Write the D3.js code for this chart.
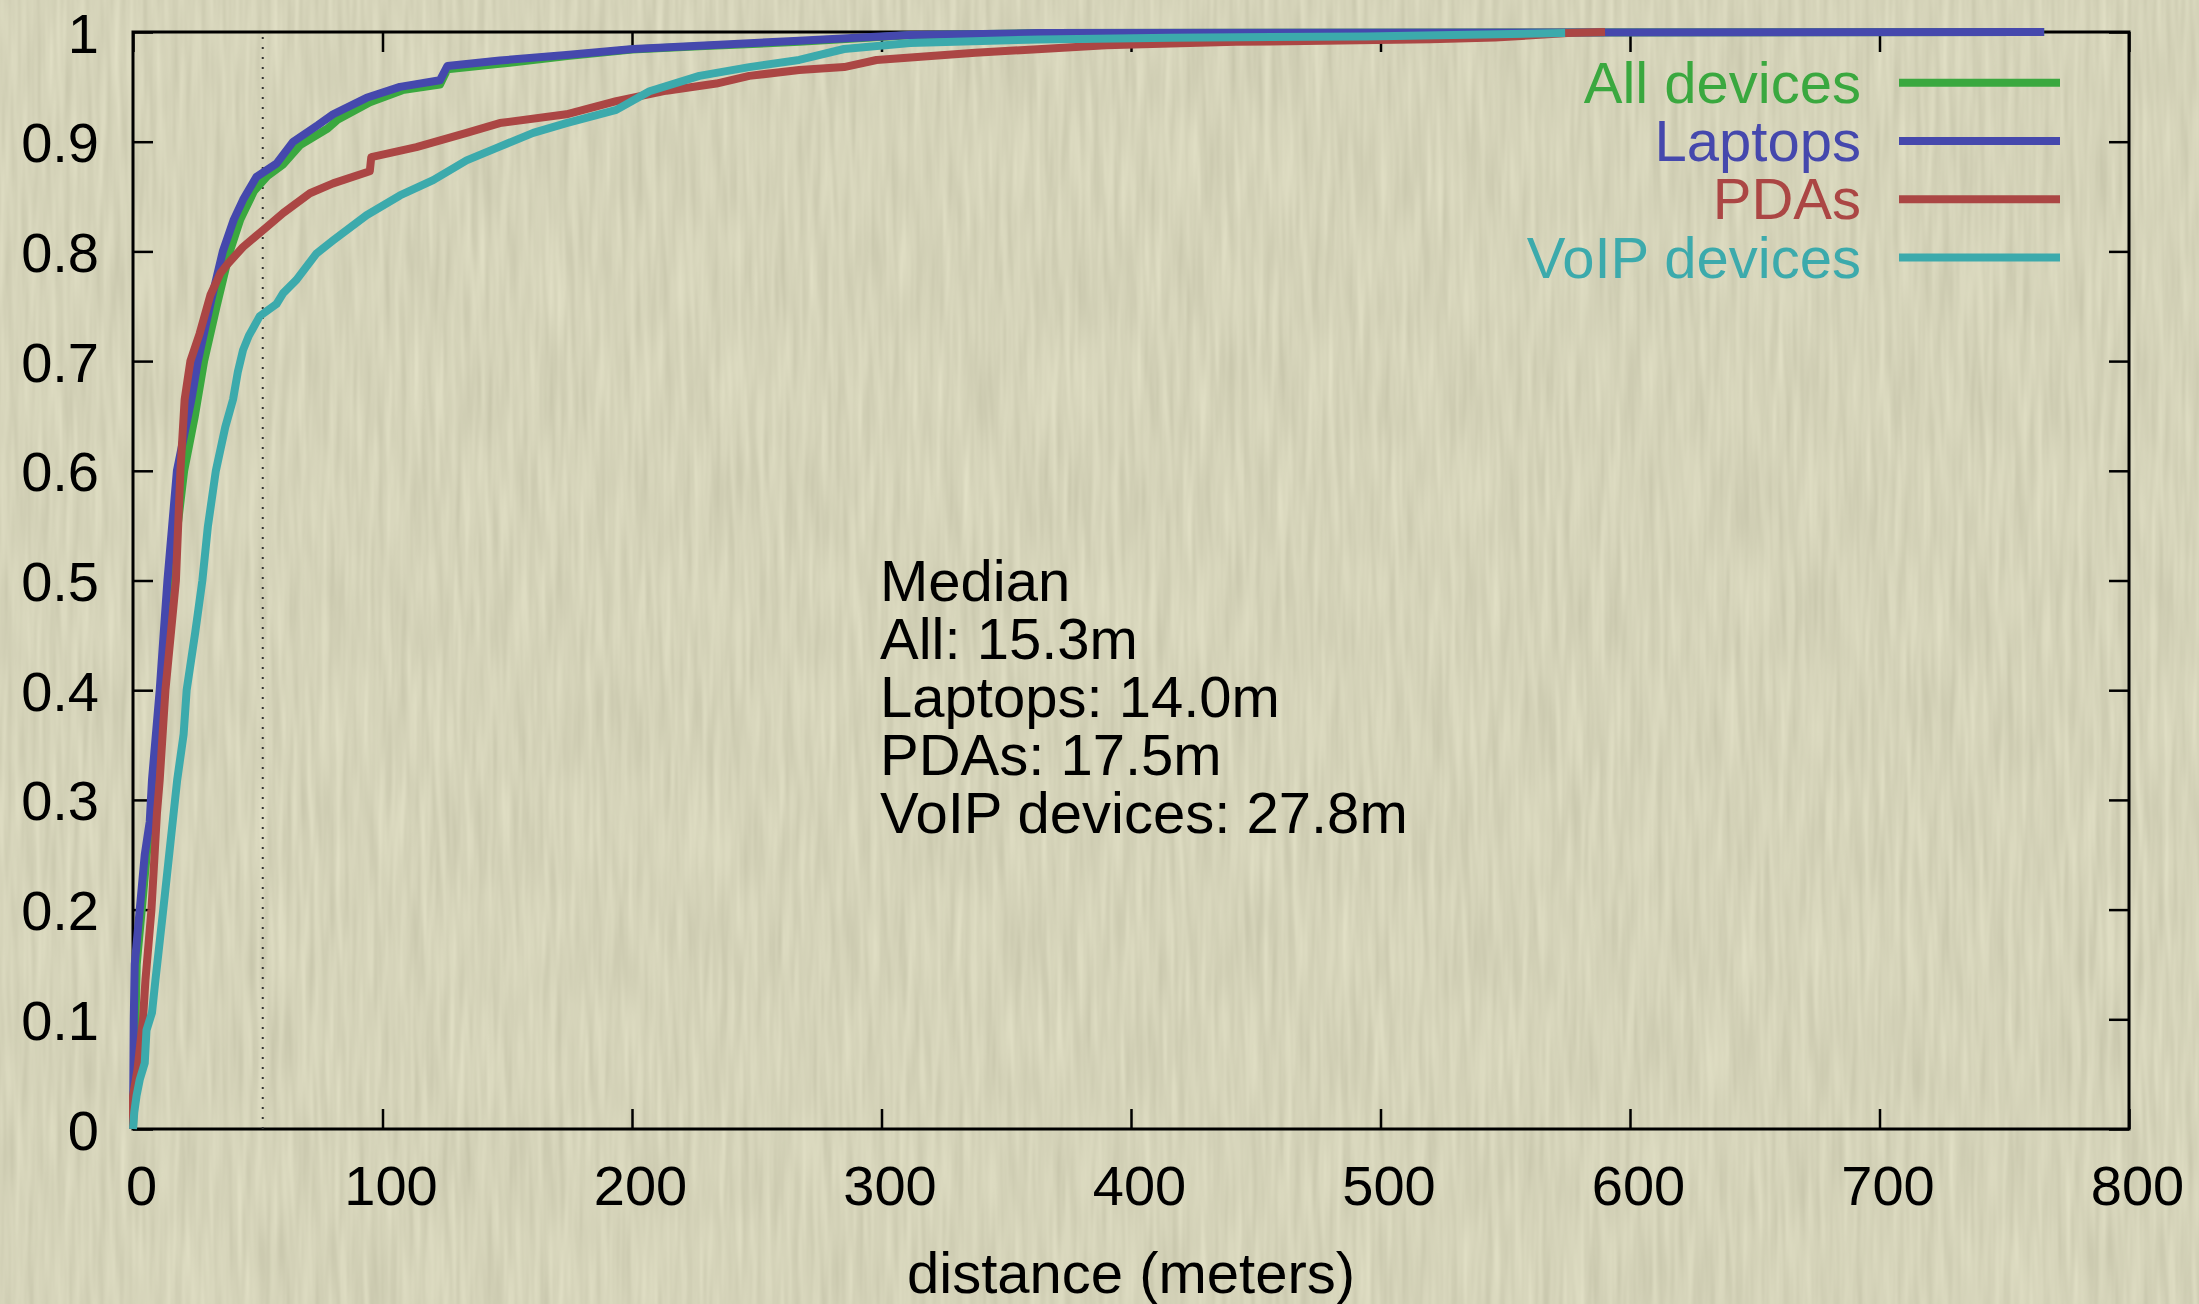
<!DOCTYPE html>
<html>
<head>
<meta charset="utf-8">
<script src="https://cdn.jsdelivr.net/npm/d3@7"></script>
<style>
  html, body { margin: 0; padding: 0; background: #d5d4b8; overflow: hidden; }
  svg { display: block; }
  text { font-family: "Liberation Sans", Arial, Helvetica, sans-serif; }
</style>
</head>
<body>
<div id="chart"></div>
<script>
// CDF points: [distance (m), cumulative fraction]
var allDevices = [
    [0, 0], [0.5, 0.05], [1, 0.1], [1.5, 0.15], [3.5, 0.2], [5.5, 0.25], [8.8, 0.318], [11.8, 0.4],
    [15.3, 0.5], [20.5, 0.6], [24.8, 0.65], [28.5, 0.7], [33.5, 0.75], [38.8, 0.8], [43, 0.829],
    [48.5, 0.855], [54, 0.869], [60, 0.879], [67, 0.897], [78, 0.912], [82, 0.92], [95, 0.936],
    [108, 0.947], [123, 0.952], [126, 0.966], [147, 0.971], [174, 0.978], [200, 0.984],
    [227, 0.987], [267, 0.991], [311, 0.997], [363, 0.999], [766, 1]
];
var laptops = [
    [0, 0], [0.3, 0.1], [0.7, 0.15], [2.7, 0.2], [4.7, 0.25], [6.7, 0.28], [7.6, 0.318], [10.7, 0.4],
    [13.8, 0.5], [17.6, 0.6], [23.4, 0.665], [26, 0.7], [31.4, 0.756], [36, 0.8], [40.4, 0.829],
    [44.1, 0.847], [49.5, 0.868], [57.5, 0.88], [64.2, 0.9], [74, 0.915], [80.2, 0.925],
    [93.6, 0.94], [107, 0.95], [123, 0.956], [126, 0.969], [147, 0.974], [173.7, 0.979],
    [200.5, 0.9845], [227, 0.9875], [267, 0.992], [311, 0.9973], [363, 0.999], [766, 1]
];
var pdas = [
    [0, 0], [0, 0.03], [1.8, 0.054], [4, 0.1], [5, 0.136], [7.4, 0.2], [9.6, 0.288], [10.7, 0.318],
    [13, 0.4], [17.2, 0.5], [19, 0.6], [20.7, 0.665], [23, 0.7], [26.7, 0.725], [31, 0.76],
    [35, 0.78], [38.1, 0.789], [44.1, 0.804], [53.5, 0.822], [60.2, 0.835], [70.9, 0.853],
    [80.2, 0.862], [94.9, 0.873], [95.5, 0.886], [113.6, 0.895], [133.7, 0.908], [147, 0.917],
    [173.7, 0.925], [193.7, 0.937], [213.8, 0.9465], [233.8, 0.953], [247, 0.96], [267, 0.9654],
    [285, 0.968], [298, 0.9745], [337.6, 0.981], [390, 0.988], [442, 0.991], [520, 0.9933],
    [546, 0.995], [575, 0.999], [590, 1]
];
var voipDevices = [
    [0, 0], [0.5, 0.015], [1.4, 0.03], [2.7, 0.045], [4.7, 0.06], [5.4, 0.09], [7.6, 0.106],
    [9, 0.136], [12.7, 0.212], [17.7, 0.318], [20.3, 0.36], [21.5, 0.4], [24.9, 0.452],
    [27.8, 0.5], [30, 0.549], [33.2, 0.6], [37, 0.64], [40.1, 0.665], [42, 0.69], [44.1, 0.71],
    [46.4, 0.723], [50.8, 0.741], [57.5, 0.752], [60.2, 0.762], [65.5, 0.774], [73.5, 0.798],
    [80.2, 0.81], [93.6, 0.833], [107, 0.851], [120.3, 0.865], [133.7, 0.883], [147, 0.8955],
    [160.4, 0.908], [173.7, 0.917], [193.7, 0.929], [207, 0.946], [227, 0.96], [247, 0.968],
    [267, 0.9745], [285, 0.9845], [311.5, 0.99], [363.6, 0.9932], [416, 0.9947], [494, 0.996],
    [574, 0.999]
];

var seriesNames = ["All devices", "Laptops", "PDAs", "VoIP devices"];
var seriesColors = ["#3aa83f", "#4548ad", "#ab4644", "#3caaac"];
var seriesData = [allDevices, laptops, pdas, voipDevices];

var xTicks = [0, 100, 200, 300, 400, 500, 600, 700, 800];
var yTicks = [0, 0.1, 0.2, 0.3, 0.4, 0.5, 0.6, 0.7, 0.8, 0.9, 1];
var medianLines = ["Median", "All: 15.3m", "Laptops: 14.0m", "PDAs: 17.5m", "VoIP devices: 27.8m"];
var markerDistance = 52;
var xLabel = "distance (meters)";

var width = 2199, height = 1304;
var tickFont = 56, textFont = 58;

var svg = d3.select("#chart").append("svg").attr("width", width).attr("height", height);

// Paper texture: fine vertical streaks on a beige base
var defs = svg.append("defs");
var paper = defs.append("filter").attr("id", "paper")
    .attr("x", 0).attr("y", 0).attr("width", "100%").attr("height", "100%")
    .attr("color-interpolation-filters", "sRGB");
paper.append("feTurbulence").attr("type", "fractalNoise")
    .attr("baseFrequency", "0.14 0.009").attr("numOctaves", 2).attr("seed", 7);
paper.append("feColorMatrix").attr("type", "matrix")
    .attr("values", "0.12 0 0 0 0.775  0.12 0 0 0 0.768  0.12 0 0 0 0.665  0 0 0 0 1");

svg.append("rect").attr("width", width).attr("height", height).attr("fill", "#d5d4b8");
svg.append("rect").attr("width", width).attr("height", height).attr("filter", "url(#paper)");

var x = d3.scaleLinear().domain([0, 800]).range([133, 2129]);
var y = d3.scaleLinear().domain([0, 1]).range([1129, 32]);

var yFormat = function(d) { return String(+d.toFixed(1)); };

function styleTicks(g) {
    g.select(".domain").remove();
    g.selectAll(".tick line").attr("stroke", "#000").attr("stroke-width", 2.5);
}

// Bottom axis with labels
var xAxis = svg.append("g").attr("transform", "translate(0," + y(0) + ")")
    .call(d3.axisBottom(x).tickValues(xTicks).tickSizeInner(-20).tickSizeOuter(0).tickFormat(d3.format("d")));
styleTicks(xAxis);
xAxis.selectAll(".tick text")
    .attr("y", 76).attr("dy", null).attr("x", 8)
    .attr("font-size", tickFont).attr("font-family", null).attr("fill", "#000");

// Left axis with labels
var yAxis = svg.append("g").attr("transform", "translate(" + x(0) + ",0)")
    .call(d3.axisLeft(y).tickValues(yTicks).tickSizeInner(-20).tickSizeOuter(0).tickFormat(yFormat));
styleTicks(yAxis);
yAxis.selectAll(".tick text")
    .attr("x", -34).attr("y", 20).attr("dy", null)
    .attr("font-size", tickFont).attr("font-family", null).attr("fill", "#000");

// Mirrored ticks on top and right
var topAxis = svg.append("g").attr("transform", "translate(0," + y(1) + ")")
    .call(d3.axisTop(x).tickValues(xTicks).tickSizeInner(-20).tickSizeOuter(0));
styleTicks(topAxis);
topAxis.selectAll(".tick text").remove();

var rightAxis = svg.append("g").attr("transform", "translate(" + x(800) + ",0)")
    .call(d3.axisRight(y).tickValues(yTicks).tickSizeInner(-20).tickSizeOuter(0));
styleTicks(rightAxis);
rightAxis.selectAll(".tick text").remove();

// Frame
svg.append("rect")
    .attr("x", x(0)).attr("y", y(1))
    .attr("width", x(800) - x(0)).attr("height", y(0) - y(1))
    .attr("fill", "none").attr("stroke", "#000").attr("stroke-width", 3);

// Dotted marker line
svg.append("line")
    .attr("x1", x(markerDistance)).attr("x2", x(markerDistance))
    .attr("y1", y(0)).attr("y2", y(1))
    .attr("stroke", "#333").attr("stroke-width", 2).attr("stroke-dasharray", "2,8");

// CDF curves
var line = d3.line().x(function(d) { return x(d[0]); }).y(function(d) { return y(d[1]); });
svg.selectAll(".cdf").data(seriesData).enter().append("path")
    .attr("class", "cdf")
    .attr("d", line)
    .attr("fill", "none")
    .attr("stroke", function(d, i) { return seriesColors[i]; })
    .attr("stroke-width", 8)
    .attr("stroke-linejoin", "round");

// Legend
var legend = svg.append("g").attr("class", "legend");
seriesNames.forEach(function(name, i) {
    var cy = 82.7 + i * 58.3;
    legend.append("text")
        .attr("x", 1861).attr("y", cy + 20)
        .attr("text-anchor", "end").attr("font-size", textFont)
        .attr("fill", seriesColors[i]).text(name);
    legend.append("line")
        .attr("x1", 1899).attr("x2", 2060).attr("y1", cy).attr("y2", cy)
        .attr("stroke", seriesColors[i]).attr("stroke-width", 8);
});

// Median annotation
var note = svg.append("text").attr("x", 880).attr("y", 601).attr("font-size", textFont).attr("fill", "#000");
medianLines.forEach(function(t, i) {
    note.append("tspan").attr("x", 880).attr("y", 601 + i * 58).text(t);
});

// Axis title
svg.append("text")
    .attr("x", (x(0) + x(800)) / 2).attr("y", 1293)
    .attr("text-anchor", "middle").attr("font-size", textFont).attr("fill", "#000")
    .text(xLabel);
</script>
</body>
</html>
